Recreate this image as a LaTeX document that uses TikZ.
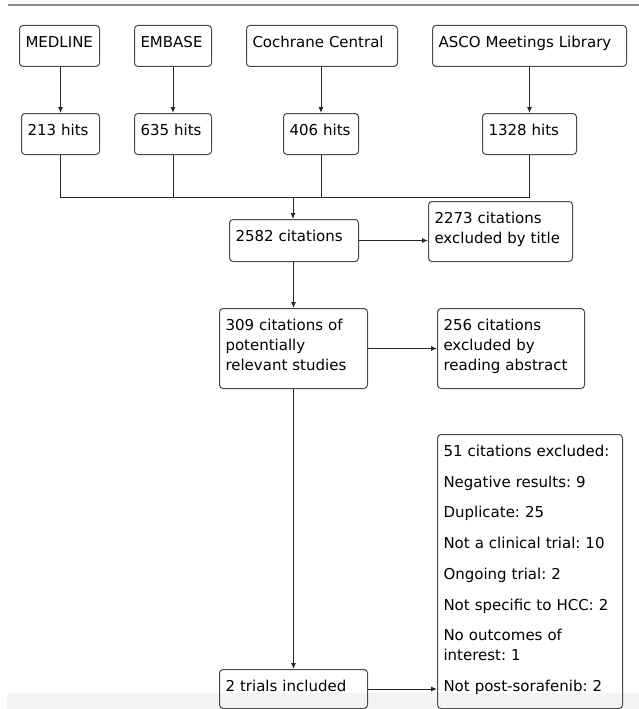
\documentclass[tikz,border=0pt]{standalone}
\usepackage{fontspec}
\setmainfont{DejaVu Sans}
\usepackage{xcolor}
\usepackage{tikz}
\usetikzlibrary{arrows.meta, calc}
\definecolor{edgegray}{HTML}{4A4A4A}
\definecolor{rulegray}{HTML}{8C8C8C}
\definecolor{bandgray}{HTML}{F4F4F4}
\frenchspacing

\begin{document}
\begin{tikzpicture}[
    x=1pt, y=-1pt,
    box/.style 2 args={rectangle, draw=edgegray, line width=1pt, rounded corners=3.5pt, anchor=north west, align=left, inner xsep=6pt, inner ysep=9pt, text height=13pt, text width={#1pt-12pt}, text depth={#2pt-31pt}, font=\fontsize{15pt}{20pt}\selectfont},
    arrow/.style={-{Latex[length=6pt,width=5pt]}, line width=1pt, draw=black!85},
    link/.style={line width=1pt, draw=black!85}
]
\useasboundingbox (0,0) rectangle (639,709);
\draw[rulegray, line width=2.5pt] (8,5) -- (639,5);
\fill[bandgray] (7,693) rectangle (639,709);
\node[box={80}{41}] (medline) at (19,25) {MEDLINE};
\node[box={77}{41}] (embase) at (134,25) {EMBASE};
\node[box={151}{41}] (cochrane) at (246,25) {Cochrane Central};
\node[box={194}{41}] (asco) at (432,25) {ASCO Meetings Library};
\node[box={78}{41}] (h213) at (21,113) {213 hits};
\node[box={77}{41}] (h635) at (134,113) {635 hits};
\node[box={75}{41}] (h406) at (283,113) {406 hits};
\node[box={94}{41}] (h1328) at (482,113) {1328 hits};
\node[box={129}{42}] (cit) at (229,219) {2582 citations};
\node[box={144}{60}] (title) at (428,201) {2273 citations\\excluded by title};
\node[box={148}{80}] (rel) at (219,308) {309 citations of\\potentially\\relevant studies};
\node[box={147}{80}] (abstract) at (437,308) {256 citations\\excluded by\\reading abstract};
\node[box={148}{39}] (trials) at (219,669) {2 trials included};
\node[box={185}{274}] (excl) at (437,434) {51 citations excluded:\\[10.7pt]Negative results: 9\\[10.7pt]Duplicate: 25\\[10.7pt]Not a clinical trial: 10\\[10.7pt]Ongoing trial: 2\\[10.7pt]Not specific to HCC: 2\\[10.7pt]No outcomes of\\interest: 1\\[10.7pt]Not post-sorafenib: 2};
\coordinate (join) at (293,197);
\draw[arrow] (medline.south -| h213) -- (h213.north);
\draw[arrow] (embase.south -| h635) -- (h635.north);
\draw[arrow] (cochrane.south -| h406) -- (h406.north);
\draw[arrow] (asco.south -| h1328) -- (h1328.north);
\draw[link] (h213) |- (join);
\draw[link] (h635) |- (join);
\draw[link] (h406) |- (join);
\draw[link] (h1328) |- (join);
\draw[arrow] (join) -- (join |- cit.north);
\draw[arrow] (cit.east) -- (cit.east -| title.west);
\draw[arrow] (rel |- cit.south) -- (rel.north);
\draw[arrow] (rel.east) -- (rel.east -| abstract.west);
\draw[arrow] (rel) -- (trials);
\draw[arrow] (trials.east) -- (trials.east -| excl.west);
\end{tikzpicture}
\end{document}
